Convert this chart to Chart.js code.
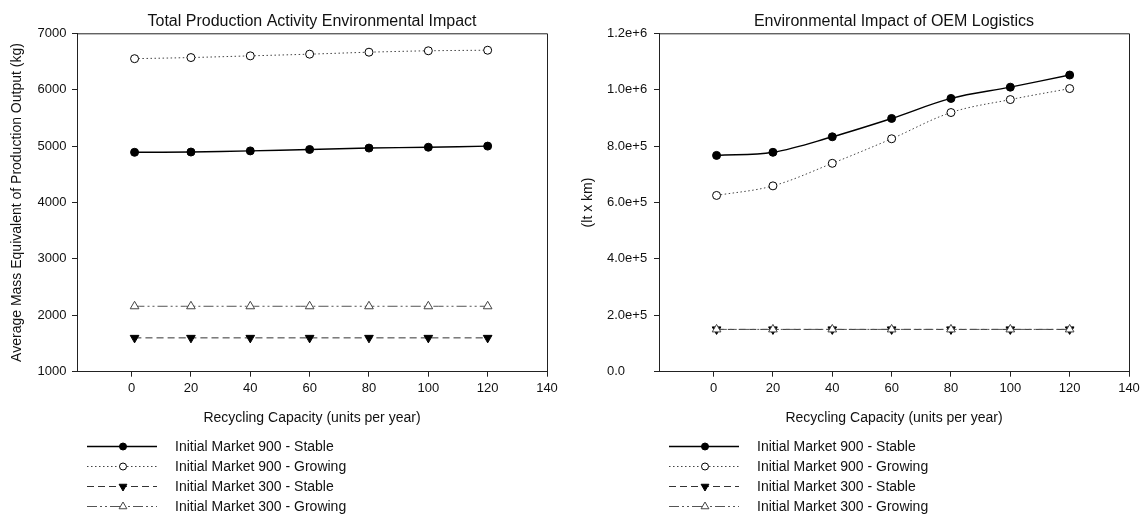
<!DOCTYPE html>
<html>
<head>
<meta charset="utf-8">
<script src="https://cdn.jsdelivr.net/npm/chart.js@4"></script>
<style>
  html, body { margin: 0; padding: 0; background: #fff; overflow: hidden; }
  canvas { position: absolute; top: 0; }
  #c1 { left: 0; }
  #c2 { left: 572px; }
</style>
</head>
<body>
<canvas id="c1" width="572" height="515"></canvas>
<canvas id="c2" width="573" height="515"></canvas>
<script>
// ---------------- data ----------------
const recyclingCapacity = [1, 20, 40, 60, 80, 100, 120];
const xTickValues = [0, 20, 40, 60, 80, 100, 120, 140];

const seriesNames = [
  'Initial Market 900 - Stable',
  'Initial Market 900 - Growing',
  'Initial Market 300 - Stable',
  'Initial Market 300 - Growing'
];

// Left: Total Production Activity Environmental Impact (kg)
const prodStable900  = [4890, 4895, 4915, 4940, 4965, 4980, 5000];
const prodGrowing900 = [6550, 6570, 6600, 6630, 6665, 6690, 6700];
const prodStable300  = [1600, 1600, 1600, 1600, 1600, 1600, 1600];
const prodGrowing300 = [2160, 2160, 2160, 2160, 2160, 2160, 2160];
const prodYTicks = [1000, 2000, 3000, 4000, 5000, 6000, 7000];
const prodYTickLabels = ['1000', '2000', '3000', '4000', '5000', '6000', '7000'];

// Right: Environmental Impact of OEM Logistics (lt x km)
const logStable900  = [767000, 778000, 833000, 898000, 969000, 1009000, 1052000];
const logGrowing900 = [625000, 659000, 739000, 826000, 919000, 965000, 1004000];
const logStable300  = [150000, 150000, 150000, 150000, 150000, 150000, 150000];
const logGrowing300 = [150000, 150000, 150000, 150000, 150000, 150000, 150000];
const logYTicks = [0, 200000, 400000, 600000, 800000, 1000000, 1200000];
const logYTickLabels = ['0.0', '2.0e+5', '4.0e+5', '6.0e+5', '8.0e+5', '1.0e+6', '1.2e+6'];

// ---------------- styles ----------------
const FONT = "'Liberation Sans', Arial, sans-serif";
const AXIS = '#222';
const styles = [
  { borderColor: '#000', borderWidth: 1.4, borderDash: [], pointStyle: 'circle', pointRadius: 4,
    pointBackgroundColor: '#000', pointBorderColor: '#000', pointRotation: 0, order: 3 },
  { borderColor: '#444', borderWidth: 1, borderDash: [1.5, 2.5], pointStyle: 'circle', pointRadius: 4,
    pointBackgroundColor: '#fff', pointBorderColor: '#000', pointRotation: 0, order: 4 },
  { borderColor: '#333', borderWidth: 1, borderDash: [7, 4], pointStyle: 'triangle', pointRadius: 5,
    pointBackgroundColor: '#000', pointBorderColor: '#000', pointRotation: 180, order: 2 },
  { borderColor: '#555', borderWidth: 1, borderDash: [10, 3, 2, 3, 2, 3], pointStyle: 'triangle', pointRadius: 5,
    pointBackgroundColor: '#fff', pointBorderColor: '#444', pointRotation: 0, order: 1 }
];

function makeDatasets(seriesList, tension) {
  return seriesList.map((vals, i) => Object.assign({
    label: seriesNames[i],
    data: recyclingCapacity.map((x, j) => ({ x: x, y: vals[j] })),
    tension: tension,
    pointBorderWidth: 1,
    fill: false
  }, styles[i]));
}

// frame + title centering + legend
const framePlugin = {
  id: 'frame',
  afterLayout(chart) {
    const t = chart.titleBlock;
    if (t) { t.left = chart.chartArea.left; t.right = chart.chartArea.right; t.width = t.right - t.left; }
  },
  afterDraw(chart) {
    const { ctx, chartArea: a } = chart;
    ctx.save();
    ctx.strokeStyle = AXIS;
    ctx.lineWidth = 1;
    ctx.beginPath();
    ctx.moveTo(a.left, a.top + 0.5);
    ctx.lineTo(a.right + 0.5, a.top + 0.5);
    ctx.lineTo(a.right + 0.5, a.bottom);
    ctx.stroke();

    // legend
    const rows = [446, 466, 486, 506];
    const x0 = a.left + 10, x1 = a.left + 80, xm = a.left + 46, xt = a.left + 98;
    chart.data.datasets.forEach((ds, i) => {
      const y = rows[i];
      ctx.save();
      ctx.strokeStyle = ds.borderColor;
      ctx.lineWidth = ds.borderWidth;
      ctx.setLineDash(ds.borderDash);
      ctx.beginPath();
      ctx.moveTo(x0, y + 0.5);
      ctx.lineTo(x1, y + 0.5);
      ctx.stroke();
      ctx.setLineDash([]);
      ctx.fillStyle = ds.pointBackgroundColor;
      ctx.strokeStyle = ds.pointBorderColor;
      ctx.lineWidth = 1;
      Chart.helpers.drawPoint(ctx, {
        pointStyle: ds.pointStyle, rotation: ds.pointRotation,
        radius: ds.pointStyle === 'circle' ? 3.5 : 4.5, borderWidth: 1
      }, xm, y + 0.5);
      ctx.restore();
      ctx.fillStyle = '#111';
      ctx.font = '14px ' + FONT;
      ctx.textBaseline = 'middle';
      ctx.textAlign = 'left';
      ctx.fillText(ds.label, xt, y + 1);
    });
    ctx.restore();
  }
};

function makeChart(id, opts) {
  return new Chart(document.getElementById(id), {
    type: 'line',
    data: { datasets: makeDatasets(opts.series, opts.tension) },
    plugins: [framePlugin],
    options: {
      responsive: false,
      animation: false,
      devicePixelRatio: 1,
      layout: { padding: { left: opts.padLeft, right: opts.padRight, top: 0, bottom: 0 } },
      plugins: {
        legend: { display: false },
        tooltip: { enabled: false },
        title: {
          display: true, text: opts.title, color: '#111',
          font: { family: FONT, size: 16, weight: 'normal' },
          padding: { top: 12, bottom: 2.1 }
        }
      },
      scales: {
        x: {
          type: 'linear', min: -18.4, max: 140,
          afterFit(s) { s.height = 143.3; },
          afterBuildTicks(s) { s.ticks = xTickValues.map(v => ({ value: v })); },
          grid: { drawOnChartArea: false, drawTicks: true, tickLength: 5, color: AXIS, tickColor: AXIS },
          border: { display: true, color: AXIS, width: 1 },
          ticks: {
            color: '#111', font: { family: FONT, size: 13 }, padding: 4, maxRotation: 0,
            callback: v => String(v)
          },
          title: {
            display: true, text: 'Recycling Capacity (units per year)', color: '#111',
            font: { family: FONT, size: 14 }, padding: { top: 0, bottom: 88.6 }
          }
        },
        y: {
          type: 'linear', min: opts.yTicks[0], max: opts.yTicks[opts.yTicks.length - 1],
          afterFit(s) { s.width = opts.yWidth; },
          afterBuildTicks(s) { s.ticks = opts.yTicks.map(v => ({ value: v })); },
          grid: { drawOnChartArea: false, drawTicks: true, tickLength: 5, color: AXIS, tickColor: AXIS },
          border: { display: true, color: AXIS, width: 1 },
          ticks: {
            color: '#111', font: { family: FONT, size: 13 }, padding: 5, crossAlign: 'far',
            callback: (v) => { const k = opts.yTicks.indexOf(v); return k >= 0 ? opts.yLabels[k] : ''; }
          },
          title: {
            display: true, text: opts.yTitle, color: '#111',
            font: { family: FONT, size: 14 }, padding: { top: opts.yTitlePad, bottom: 0 }
          }
        }
      }
    }
  });
}

makeChart('c1', {
  series: [prodStable900, prodGrowing900, prodStable300, prodGrowing300],
  tension: 0.3,
  title: 'Total Production Activity Environmental Impact',
  yTitle: 'Average Mass Equivalent of Production Output (kg)',
  yTicks: prodYTicks, yLabels: prodYTickLabels,
  padLeft: 37.5, yWidth: 39.5, yTitlePad: -28.4, padRight: 25
});

makeChart('c2', {
  series: [logStable900, logGrowing900, logStable300, logGrowing300],
  tension: 0.35,
  title: 'Environmental Impact of OEM Logistics',
  yTitle: '(lt x km)',
  yTicks: logYTicks, yLabels: logYTickLabels,
  padLeft: 35, yWidth: 52, yTitlePad: -27.4, padRight: 16
});
</script>
</body>
</html>
